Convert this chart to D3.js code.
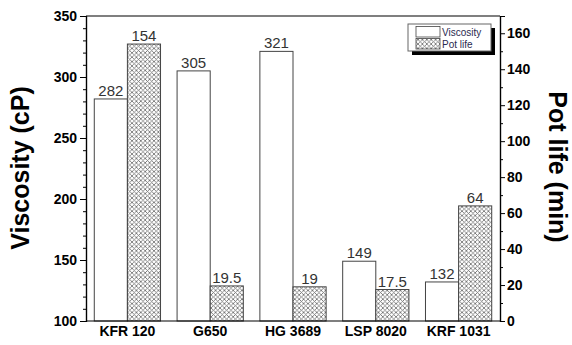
<!DOCTYPE html>
<html><head><meta charset="utf-8">
<script src="https://cdn.jsdelivr.net/npm/d3@7"></script>
<style>body{margin:0;background:#fff}svg{display:block;font-family:"Liberation Sans",Arial,sans-serif}</style>
</head><body>
<script>
const categories = ["KFR 120","G650","HG 3689","LSP 8020","KRF 1031"];
const viscosity = [282,305,321,149,132];
const potLife = [154,19.5,19,17.5,64];
const potLifeLabels = ["154","19.5","19","17.5","64"];
const leftTicks = [100,150,200,250,300,350];
const rightTicks = [0,20,40,60,80,100,120,140,160];

const W=572,H=345;
const m={l:86,r:500,t:16,b:321};
const svg=d3.select("body").append("svg").attr("width",W).attr("height",H);
const defs=svg.append("defs");
const pat=defs.append("pattern").attr("id","hatch").attr("patternUnits","userSpaceOnUse")
  .attr("width",4.4).attr("height",4.4);
pat.append("rect").attr("width",4.4).attr("height",4.4).attr("fill","#fff");
pat.append("path").attr("d","M0,0L4.4,4.4M4.4,0L0,4.4").attr("stroke","#6a6a6a").attr("stroke-width",0.8);

const x0=d3.scaleBand().domain(categories).range([m.l,m.r]).paddingInner(0).paddingOuter(0);
const x1=d3.scaleBand().domain(["v","p"]).range([0,x0.bandwidth()]).paddingOuter(0.25).paddingInner(0);
const yL=d3.scaleLinear().domain([100,350]).range([m.b,m.t]);
const yR=d3.scaleLinear().domain([0,169.6]).range([m.b,m.t]);

const g=svg.append("g");
categories.forEach((c,i)=>{
  const xv=x0(c)+x1("v"), xp=x0(c)+x1("p"), bw=x1.bandwidth();
  g.append("rect").attr("x",xv).attr("y",yL(viscosity[i])).attr("width",bw).attr("height",m.b-yL(viscosity[i]))
    .attr("fill","#fff").attr("stroke","#444").attr("stroke-width",1);
  g.append("rect").attr("x",xp).attr("y",yR(potLife[i])).attr("width",bw).attr("height",m.b-yR(potLife[i]))
    .attr("fill","url(#hatch)").attr("stroke","#444").attr("stroke-width",1);
  g.append("text").attr("x",xv+bw/2).attr("y",yL(viscosity[i])-3).attr("text-anchor","middle")
    .attr("font-size",15).attr("fill","#333").text(viscosity[i]);
  g.append("text").attr("x",xp+bw/2).attr("y",yR(potLife[i])-3).attr("text-anchor","middle")
    .attr("font-size",15).attr("fill","#333").text(potLifeLabels[i]);
});

// frame
svg.append("line").attr("x1",m.l).attr("x2",m.r).attr("y1",m.t).attr("y2",m.t).attr("stroke","#000").attr("stroke-width",1.2);

const la=svg.append("g").attr("transform",`translate(${m.l},0)`)
  .call(d3.axisLeft(yL).tickValues(leftTicks).tickSize(6).tickPadding(3));
la.append("g").call(d3.axisLeft(yL).tickValues(d3.range(100,351,10).filter(v=>v%50)).tickSize(3).tickFormat(""));
const ra=svg.append("g").attr("transform",`translate(${m.r},0)`)
  .call(d3.axisRight(yR).tickValues(rightTicks).tickSize(5).tickPadding(2));
ra.append("g").call(d3.axisRight(yR).tickValues(d3.range(10,170,20)).tickSize(3).tickFormat(""));
const ba=svg.append("g").attr("transform",`translate(0,${m.b})`)
  .call(d3.axisBottom(x0).tickSize(0).tickPadding(5));
[la,ra,ba].forEach(a=>{
  a.selectAll("path.domain").attr("stroke","#000").attr("stroke-width",1.2);
  a.selectAll("line").attr("stroke","#000");
  a.selectAll("text").attr("font-size",14).attr("font-weight","bold").attr("fill","#000")
    .attr("font-family","Liberation Sans, Arial, sans-serif");
});
ba.selectAll("path.domain").attr("d",`M${m.l},0H${m.r}`);

svg.append("text").attr("transform","translate(29,168) rotate(-90)").attr("text-anchor","middle")
  .attr("font-size",25).attr("font-weight","bold").text("Viscosity (cP)");
svg.append("text").attr("transform","translate(549,167) rotate(90)").attr("text-anchor","middle")
  .attr("font-size",25).attr("font-weight","bold").text("Pot life (min)");

// legend
const lg=svg.append("g");
lg.append("rect").attr("x",412).attr("y",28).attr("width",83).attr("height",27).attr("fill","#000");
lg.append("rect").attr("x",408).attr("y",24).attr("width",83).attr("height",27).attr("fill","#fff").attr("stroke","#666").attr("stroke-width",1);
lg.append("rect").attr("x",416).attr("y",26.5).attr("width",24).attr("height",10.5).attr("fill","#fff").attr("stroke","#444").attr("stroke-width",0.8);
lg.append("rect").attr("x",416).attr("y",38.5).attr("width",24).attr("height",10.5).attr("fill","url(#hatch)").attr("stroke","#444").attr("stroke-width",0.8);
lg.append("text").attr("x",442).attr("y",35.5).attr("font-size",10).attr("fill","#2a2a50").text("Viscosity");
lg.append("text").attr("x",442).attr("y",47.5).attr("font-size",10).attr("fill","#2a2a50").text("Pot life");
</script>
</body></html>
